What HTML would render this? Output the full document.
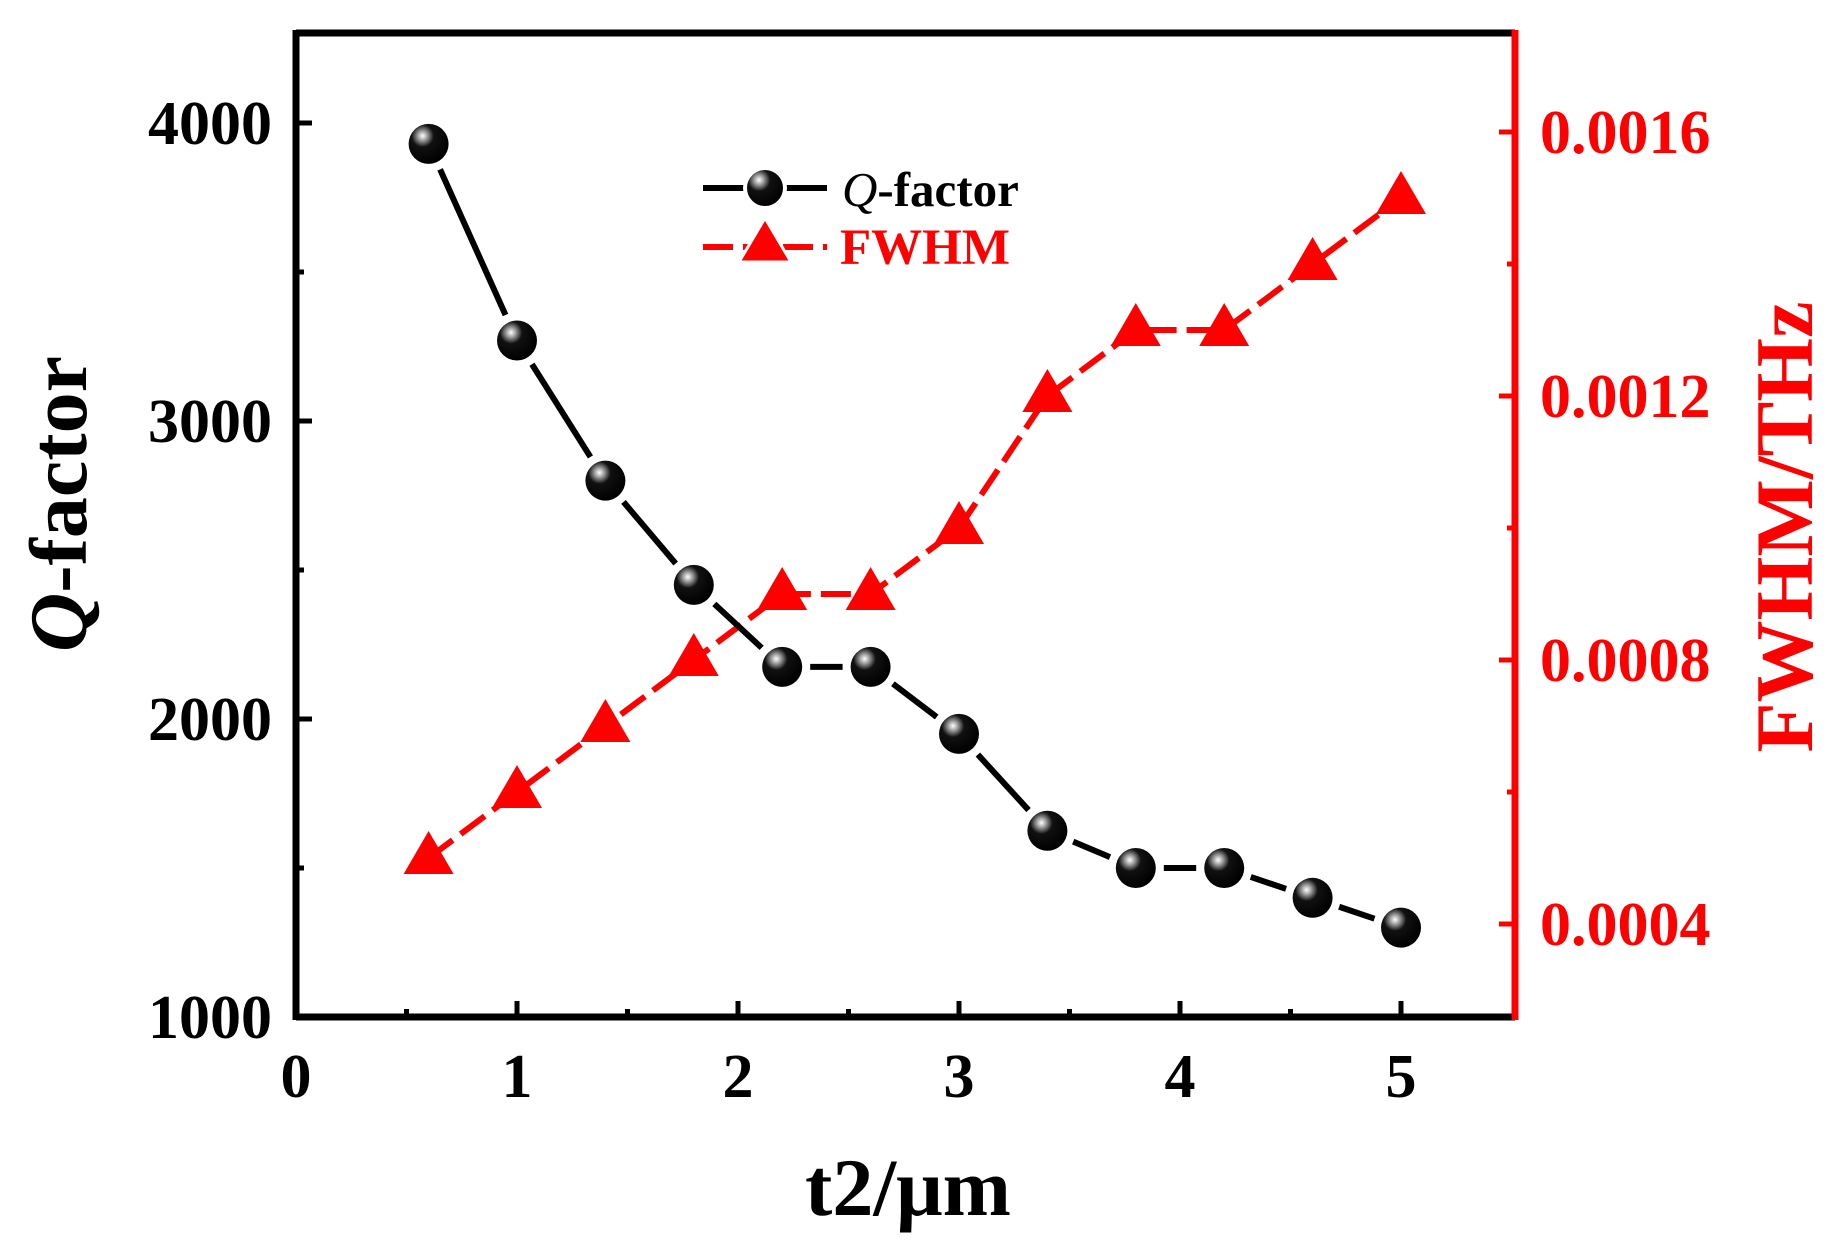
<!DOCTYPE html>
<html><head><meta charset="utf-8"><style>
html,body{margin:0;padding:0;background:#fff;}
svg{display:block;}
text{font-family:"Liberation Serif","Times New Roman",serif;font-weight:bold;}
</style></head><body>
<svg id="chart" width="1828" height="1242" viewBox="0 0 1828 1242" xmlns="http://www.w3.org/2000/svg">
<defs>
<radialGradient id="sph" cx="0.35" cy="0.3" r="0.7">
<stop offset="0" stop-color="#fff"/><stop offset="0.15" stop-color="#aaa"/><stop offset="0.4" stop-color="#111"/><stop offset="1" stop-color="#000"/>
</radialGradient>
</defs>
<g id="plot"></g>
</svg>
<script>
const xValues = [0.6,1.0,1.4,1.8,2.2,2.6,3.0,3.4,3.8,4.2,4.6,5.0];
const qValues = [3930,3270,2800,2450,2175,2175,1950,1625,1500,1500,1400,1300];
const fwhmValues = [0.0005,0.0006,0.0007,0.0008,0.0009,0.0009,0.0010,0.0012,0.0013,0.0013,0.0014,0.0015];
const xTicks = [0,1,2,3,4,5];
const qTicks = [1000,2000,3000,4000];
const fwhmTicks = ["0.0004","0.0008","0.0012","0.0016"];

const L=296,R=1515,T=33,B=1017;
const sx=v=>L+v*221;
const sq=v=>1017-(v-1000)*0.298;
const sf=v=>924-(v-0.0004)*660000;
const NS="http://www.w3.org/2000/svg";
const g=document.getElementById('plot');
function mk(tag,attrs,parent){const e=document.createElementNS(NS,tag);for(const k in attrs)e.setAttribute(k,attrs[k]);(parent||g).appendChild(e);return e;}

let e;
e=mk('line',{x1:L,y1:T,x2:R,y2:T,stroke:'#000','stroke-width':7});


e=mk('line',{x1:L,y1:B,x2:R,y2:B,stroke:'#000','stroke-width':7});


e=mk('line',{x1:L,y1:T-3,x2:L,y2:B+3,stroke:'#000','stroke-width':7});


e=mk('line',{x1:R,y1:T-3,x2:R,y2:B+3,stroke:'#f00','stroke-width':7});



for(let v=0.5;v<5.5;v+=0.5){
  const major=Math.abs(v-Math.round(v))<1e-6;
  e=mk('line',{x1:sx(v),y1:B,x2:sx(v),y2:B-(major?16:8),stroke:'#000','stroke-width':5});
  
  
}
xTicks.forEach(v=>{
  e=mk('text',{x:sx(v),y:1097,'font-size':62,'text-anchor':'middle',fill:'#000'});
  e.textContent=v;
  
  
});
for(let v=1500;v<=4000;v+=500){
  const major=v%1000===0;
  e=mk('line',{x1:L,y1:sq(v),x2:L+(major?16:8),y2:sq(v),stroke:'#000','stroke-width':5});
  
  
}
qTicks.forEach(v=>{
  e=mk('text',{x:272,y:sq(v)+21,'font-size':62,'text-anchor':'end',fill:'#000'});
  e.textContent=v;
  
  
});
for(let k=0;k<8;k++){
  const v=0.0004+k*0.0002;
  const y=sf(v);
  if(y<T+5)break;
  const major=k%2===0;
  e=mk('line',{x1:R,y1:y,x2:R-(major?16:8),y2:y,stroke:'#f00','stroke-width':5});
  
  
}
fwhmTicks.forEach(s=>{
  e=mk('text',{x:1540,y:sf(parseFloat(s))+21,'font-size':62,'text-anchor':'start',fill:'#f00'});
  e.textContent=s;
  
  
});

e=mk('text',{x:908,y:1215,'font-size':82,'text-anchor':'middle',fill:'#000'});
e.textContent='t2/μm';


e=mk('text',{transform:'translate(86,504) rotate(-90)','font-size':82,'text-anchor':'middle',fill:'#000'});
e.innerHTML='<tspan font-style="italic">Q</tspan>-factor';


e=mk('text',{transform:'translate(1812,527) rotate(-90)','font-size':82,'text-anchor':'middle',fill:'#f00'});
e.textContent='FWHM/THz';



const fp=xValues.map((x,i)=>[sx(x),sf(fwhmValues[i])]);
e=mk('polyline',{points:fp.map(p=>p.join(',')).join(' '),fill:'none',stroke:'#f00','stroke-width':6,'stroke-dasharray':'30 10'});


fp.forEach(p=>{
  e=mk('polygon',{points:`${p[0]},${p[1]-27} ${p[0]-25},${p[1]+16} ${p[0]+25},${p[1]+16}`,fill:'#f00'});
  
  
});

const qp=xValues.map((x,i)=>[sx(x),sq(qValues[i])]);
for(let i=0;i<qp.length-1;i++){
  const [x1,y1]=qp[i],[x2,y2]=qp[i+1];
  const d=Math.hypot(x2-x1,y2-y1),ux=(x2-x1)/d,uy=(y2-y1)/d,gap=28;
  e=mk('line',{x1:x1+ux*gap,y1:y1+uy*gap,x2:x2-ux*gap,y2:y2-uy*gap,stroke:'#000','stroke-width':6});
  
  
}
qp.forEach(p=>{
  e=mk('circle',{cx:p[0],cy:p[1],r:20,fill:'url(#sph)'});
  
  
});

const lg=mk('g',{});


e=mk('line',{x1:703,y1:188,x2:827,y2:188,stroke:'#000','stroke-width':6},lg);


e=mk('circle',{cx:765,cy:188,r:20,fill:'url(#sph)',stroke:'#fff','stroke-width':4},lg);


e=mk('text',{x:842,y:206,'font-size':49,fill:'#000'},lg);
e.innerHTML='<tspan font-style="italic" font-weight="normal">Q</tspan>-factor';


e=mk('line',{x1:703,y1:247,x2:827,y2:247,stroke:'#f00','stroke-width':6,'stroke-dasharray':'30 10'},lg);


e=mk('polygon',{points:'765,218 739,262 791,262',fill:'#f00',stroke:'#fff','stroke-width':3},lg);


e=mk('text',{x:840,y:264,'font-size':51,fill:'#f00'},lg);
e.textContent='FWHM';


</script>
</body></html>
